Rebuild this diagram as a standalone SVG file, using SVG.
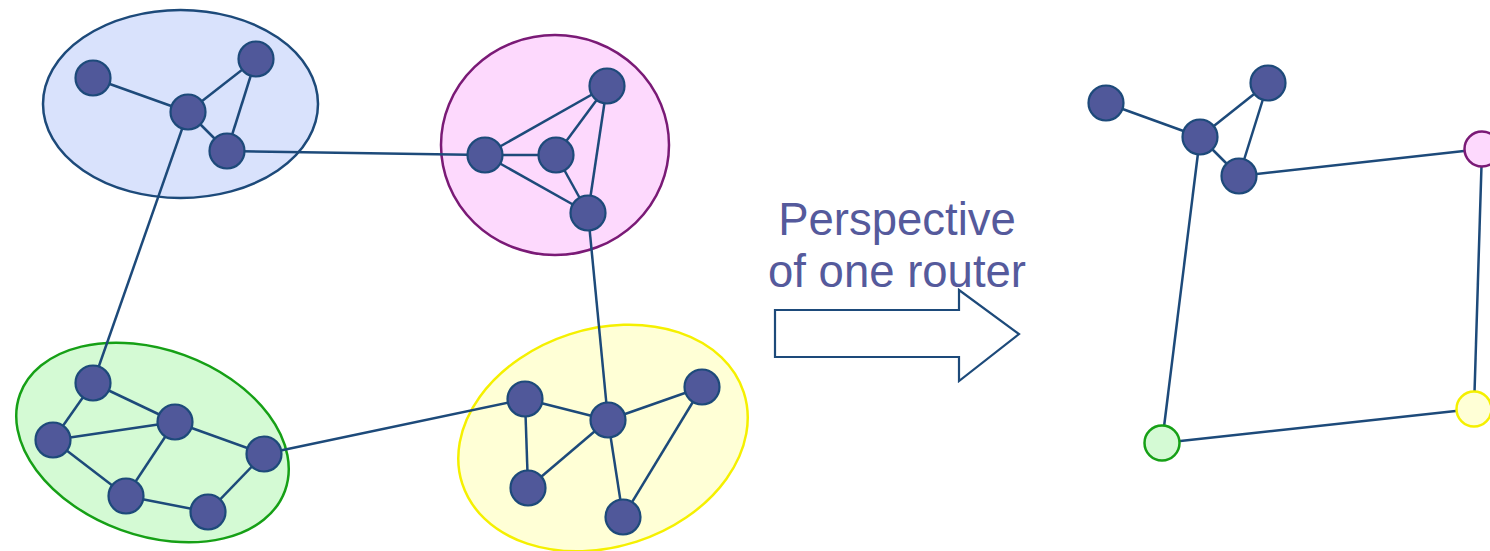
<svg xmlns="http://www.w3.org/2000/svg" width="1490" height="551" viewBox="0 0 1490 551">
<style>
.n{fill:#50589a;stroke:#1d4a7a;stroke-width:2.2}
.e line{stroke:#1d4a7a;stroke-width:2.5}
.t{font-family:"Liberation Sans",Arial,sans-serif;font-size:45.5px;fill:#555a9c;text-anchor:middle}
</style>
<rect width="1490" height="551" fill="#fff"/>
<g id="clusters">
<ellipse id="cluster-blue" cx="180.5" cy="104" rx="137.5" ry="94" fill="#d9e2fc" stroke="#1d4a7a" stroke-width="2.5"/>
<ellipse id="cluster-pink" cx="555" cy="145" rx="114" ry="110" fill="#fdd9fd" stroke="#7a1a76" stroke-width="2.5"/>
<ellipse id="cluster-green" cx="152.5" cy="442.5" rx="141" ry="93" transform="rotate(20 152.5 442.5)" fill="#d4fad4" stroke="#16a016" stroke-width="2.5"/>
<ellipse id="cluster-yellow" cx="603" cy="438" rx="148" ry="109" transform="rotate(-18 603 438)" fill="#ffffd6" stroke="#f5f000" stroke-width="2.5"/>
</g>
<g id="connectors" class="e">
<line x1="93" y1="78" x2="188" y2="112"/>
<line x1="188" y1="112" x2="256" y2="59"/>
<line x1="256" y1="59" x2="227" y2="151"/>
<line x1="188" y1="112" x2="227" y2="151"/>
<line x1="227" y1="151" x2="485" y2="155"/>
<line x1="188" y1="112" x2="93" y2="383"/>
<line x1="485" y1="155" x2="556" y2="155"/>
<line x1="485" y1="155" x2="607" y2="86"/>
<line x1="485" y1="155" x2="588" y2="213"/>
<line x1="556" y1="155" x2="607" y2="86"/>
<line x1="556" y1="155" x2="588" y2="213"/>
<line x1="607" y1="86" x2="588" y2="213"/>
<line x1="588" y1="213" x2="608" y2="420"/>
<line x1="93" y1="383" x2="53" y2="440"/>
<line x1="93" y1="383" x2="175" y2="422"/>
<line x1="53" y1="440" x2="175" y2="422"/>
<line x1="53" y1="440" x2="126" y2="496"/>
<line x1="175" y1="422" x2="126" y2="496"/>
<line x1="175" y1="422" x2="264" y2="454"/>
<line x1="264" y1="454" x2="208" y2="512"/>
<line x1="126" y1="496" x2="208" y2="512"/>
<line x1="264" y1="454" x2="525" y2="399"/>
<line x1="525" y1="399" x2="608" y2="420"/>
<line x1="525" y1="399" x2="528" y2="488"/>
<line x1="608" y1="420" x2="528" y2="488"/>
<line x1="608" y1="420" x2="702" y2="387"/>
<line x1="608" y1="420" x2="623" y2="517"/>
<line x1="702" y1="387" x2="623" y2="517"/>
<line x1="1106" y1="103" x2="1200" y2="137"/>
<line x1="1200" y1="137" x2="1268" y2="83"/>
<line x1="1268" y1="83" x2="1239" y2="176"/>
<line x1="1200" y1="137" x2="1239" y2="176"/>
<line x1="1239" y1="176" x2="1482" y2="149"/>
<line x1="1200" y1="137" x2="1162" y2="443"/>
<line x1="1482" y1="149" x2="1474" y2="409"/>
<line x1="1474" y1="409" x2="1162" y2="443"/>
</g>
<g id="nodes-blue">
<circle id="b1" class="n" cx="93" cy="78" r="17.5"/>
<circle id="b2" class="n" cx="188" cy="112" r="17.5"/>
<circle id="b3" class="n" cx="256" cy="59" r="17.5"/>
<circle id="b4" class="n" cx="227" cy="151" r="17.5"/>
</g>
<g id="nodes-pink">
<circle id="p1" class="n" cx="485" cy="155" r="17.5"/>
<circle id="p2" class="n" cx="556" cy="155" r="17.5"/>
<circle id="p3" class="n" cx="607" cy="86" r="17.5"/>
<circle id="p4" class="n" cx="588" cy="213" r="17.5"/>
</g>
<g id="nodes-green">
<circle id="g1" class="n" cx="93" cy="383" r="17.5"/>
<circle id="g2" class="n" cx="53" cy="440" r="17.5"/>
<circle id="g3" class="n" cx="175" cy="422" r="17.5"/>
<circle id="g4" class="n" cx="264" cy="454" r="17.5"/>
<circle id="g5" class="n" cx="126" cy="496" r="17.5"/>
<circle id="g6" class="n" cx="208" cy="512" r="17.5"/>
</g>
<g id="nodes-yellow">
<circle id="y1" class="n" cx="525" cy="399" r="17.5"/>
<circle id="y2" class="n" cx="608" cy="420" r="17.5"/>
<circle id="y3" class="n" cx="702" cy="387" r="17.5"/>
<circle id="y4" class="n" cx="528" cy="488" r="17.5"/>
<circle id="y5" class="n" cx="623" cy="517" r="17.5"/>
</g>
<g id="label">
<text class="t" x="897" y="235">Perspective</text>
<text class="t" x="897" y="287">of one router</text>
</g>
<g id="arrow">
<path d="M775,310 H959 V290 L1019,334 L959,381 V357 H775 Z" fill="#fff" stroke="#1d4a7a" stroke-width="2.2"/>
</g>
<g id="nodes-right">
<circle id="r1" class="n" cx="1106" cy="103" r="17.5"/>
<circle id="r2" class="n" cx="1200" cy="137" r="17.5"/>
<circle id="r3" class="n" cx="1268" cy="83" r="17.5"/>
<circle id="r4" class="n" cx="1239" cy="176" r="17.5"/>
<circle id="r-pink" cx="1482" cy="149" r="17.5" fill="#fdd9fd" stroke="#7a1a76" stroke-width="2.5"/>
<circle id="r-yellow" cx="1474" cy="409" r="17.5" fill="#ffffd6" stroke="#f5f000" stroke-width="2.5"/>
<circle id="r-green" cx="1162" cy="443" r="17.5" fill="#d4fad4" stroke="#16a016" stroke-width="2.5"/>
</g>
</svg>
